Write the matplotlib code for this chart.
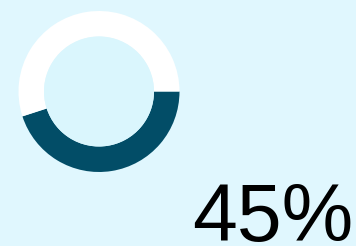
import matplotlib
matplotlib.use("Agg")
import matplotlib.pyplot as plt
from matplotlib.patches import Circle

labels = ["filled", "remaining"]
values = [45, 55]
label_text = "45%"

W, H = 356, 246
fig = plt.figure(figsize=(W / 100, H / 100), dpi=100)
fig.patch.set_facecolor("#e0f7fe")
ax = fig.add_axes([0, 0, 1, 1])
ax.set_facecolor("#e0f7fe")

cx, cy = 99, H - 91.5
ax.pie(values, colors=["#024d67", "#ffffff"], startangle=0, counterclock=False,
       radius=80.5, center=(cx, cy), frame=True,
       wedgeprops=dict(width=25.5, linewidth=0))
ax.add_patch(Circle((cx, cy), 55, facecolor="#daf6fd", edgecolor="none"))

ax.text(353, 4.5, label_text, ha="right", va="baseline",
        fontsize=58, family="Liberation Sans", color="#000000")

ax.set_xlim(0, W)
ax.set_ylim(0, H)
ax.set_aspect("auto")
ax.axis("off")
fig.savefig("out.png", dpi=100, facecolor=fig.get_facecolor())
